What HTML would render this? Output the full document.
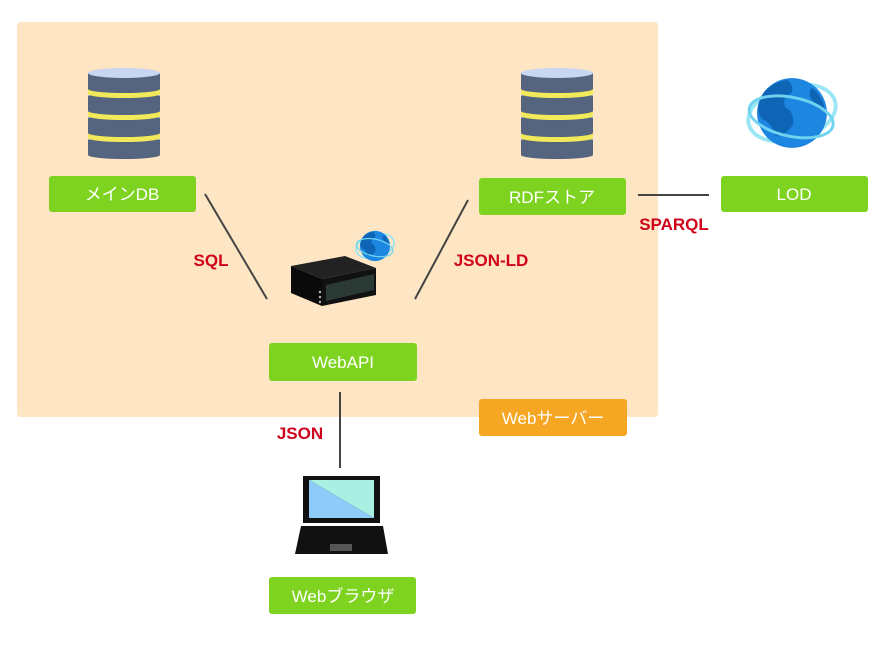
<!DOCTYPE html>
<html><head><meta charset="utf-8"><style>
body{margin:0;background:#fff;}
.t{font-family:"Liberation Sans","Noto Sans CJK JP",sans-serif;}
</style></head><body>
<svg width="892" height="657" viewBox="0 0 892 657" xmlns="http://www.w3.org/2000/svg">
<defs>
<g id="disk">
  <path d="M0 0 v16 a36 4 0 0 0 72 0 v-16 z" fill="#55657f"/>
  <ellipse cx="36" cy="0" rx="36" ry="4.5" fill="#c9d6f2"/>
  <ellipse cx="36" cy="1.2" rx="35" ry="3.6" fill="#55657f"/>
</g>
<g id="band">
  <path d="M0 14 v7 a36 4 0 0 0 72 0 v-7 z" fill="#f1e85a"/>
</g>
<g id="db">
  <use href="#disk" x="0" y="71"/>
  <use href="#band" x="0" y="49"/>
  <use href="#disk" x="0" y="49"/>
  <use href="#band" x="0" y="27"/>
  <use href="#disk" x="0" y="27"/>
  <use href="#band" x="0" y="5"/>
  <path d="M0 5 v16 a36 4 0 0 0 72 0 v-16 z" fill="#55657f"/>
  <ellipse cx="36" cy="5" rx="36" ry="5" fill="#c9d6f2"/>
</g>
<g id="globe">
  <ellipse cx="0" cy="0" rx="46" ry="28" fill="none" stroke="#9be6f5" stroke-width="4" transform="rotate(-15)"/>
  <circle cx="0" cy="0" r="36" fill="#1d86e0"/>
  <path d="M-30 -20 q10 -12 25 -14 q8 6 4 14 q-10 4 -6 14 q10 6 8 18 q-6 10 -18 12 q-4 -14 -14 -18 q-8 -10 1 -26z" fill="#0e64b5"/>
  <path d="M20 -26 q12 8 14 24 q-10 -2 -12 -10 q-6 -6 -2 -14z" fill="#0e64b5"/>
  <ellipse cx="0" cy="4" rx="44" ry="20" fill="none" stroke="#6fd3f0" stroke-width="3" transform="rotate(12)"/>
</g>
</defs>
<rect x="17" y="22" width="641" height="395" rx="3" fill="#fee6c4"/>

<use href="#db" x="88" y="68"/>
<use href="#db" x="521" y="68"/>

<g transform="translate(792,113) scale(0.97)"><use href="#globe"/></g>
<g transform="translate(375,246) scale(0.42)"><use href="#globe"/></g>

<!-- server -->
<polygon points="291,266 345,256 376,268 322,279" fill="#222"/>
<polygon points="291,266 322,279 322,306 291,293" fill="#0a0a0a"/>
<polygon points="322,279 376,268 376,295 322,306" fill="#111"/>
<polygon points="326,285 374,274 374,290 326,301" fill="#2c3a35"/>
<circle cx="320" cy="292" r="1.2" fill="#bbb"/><circle cx="320" cy="297" r="1.2" fill="#bbb"/><circle cx="320" cy="302" r="1.2" fill="#bbb"/>

<!-- laptop -->
<rect x="303" y="476" width="77" height="47" fill="#111"/>
<polygon points="309,480 374,480 374,518" fill="#a9efe2"/>
<polygon points="309,480 374,518 309,518" fill="#8ecbf9"/>
<polygon points="301,526 383,526 388,554 295,554" fill="#111"/>
<rect x="330" y="544" width="22" height="7" fill="#555"/>

<g stroke="#444" stroke-width="2">
<line x1="205" y1="194" x2="267" y2="299"/>
<line x1="468" y1="200" x2="415" y2="299"/>
<line x1="638" y1="195" x2="709" y2="195"/>
<line x1="340" y1="392" x2="340" y2="468"/>
</g>

<g class="t" font-size="17" fill="#fff" text-anchor="middle">
<rect x="49" y="176" width="147" height="36" rx="3" fill="#7ed321"/>
<text x="122" y="200">メインDB</text>
<rect x="479" y="178" width="147" height="37" rx="3" fill="#7ed321"/>
<text x="552" y="203">RDFストア</text>
<rect x="721" y="176" width="147" height="36" rx="3" fill="#7ed321"/>
<text x="794" y="200">LOD</text>
<rect x="269" y="343" width="148" height="38" rx="3" fill="#7ed321"/>
<text x="343" y="368">WebAPI</text>
<rect x="269" y="577" width="147" height="37" rx="3" fill="#7ed321"/>
<text x="343" y="602">Webブラウザ</text>
<rect x="479" y="399" width="148" height="37" rx="3" fill="#f5a623"/>
<text x="553" y="424">Webサーバー</text>
</g>
<g class="t" font-size="17" font-weight="bold" fill="#d0021b" text-anchor="middle">
<text x="211" y="266">SQL</text>
<text x="491" y="266">JSON-LD</text>
<text x="674" y="230">SPARQL</text>
<text x="300" y="439">JSON</text>
</g>
</svg>
</body></html>
